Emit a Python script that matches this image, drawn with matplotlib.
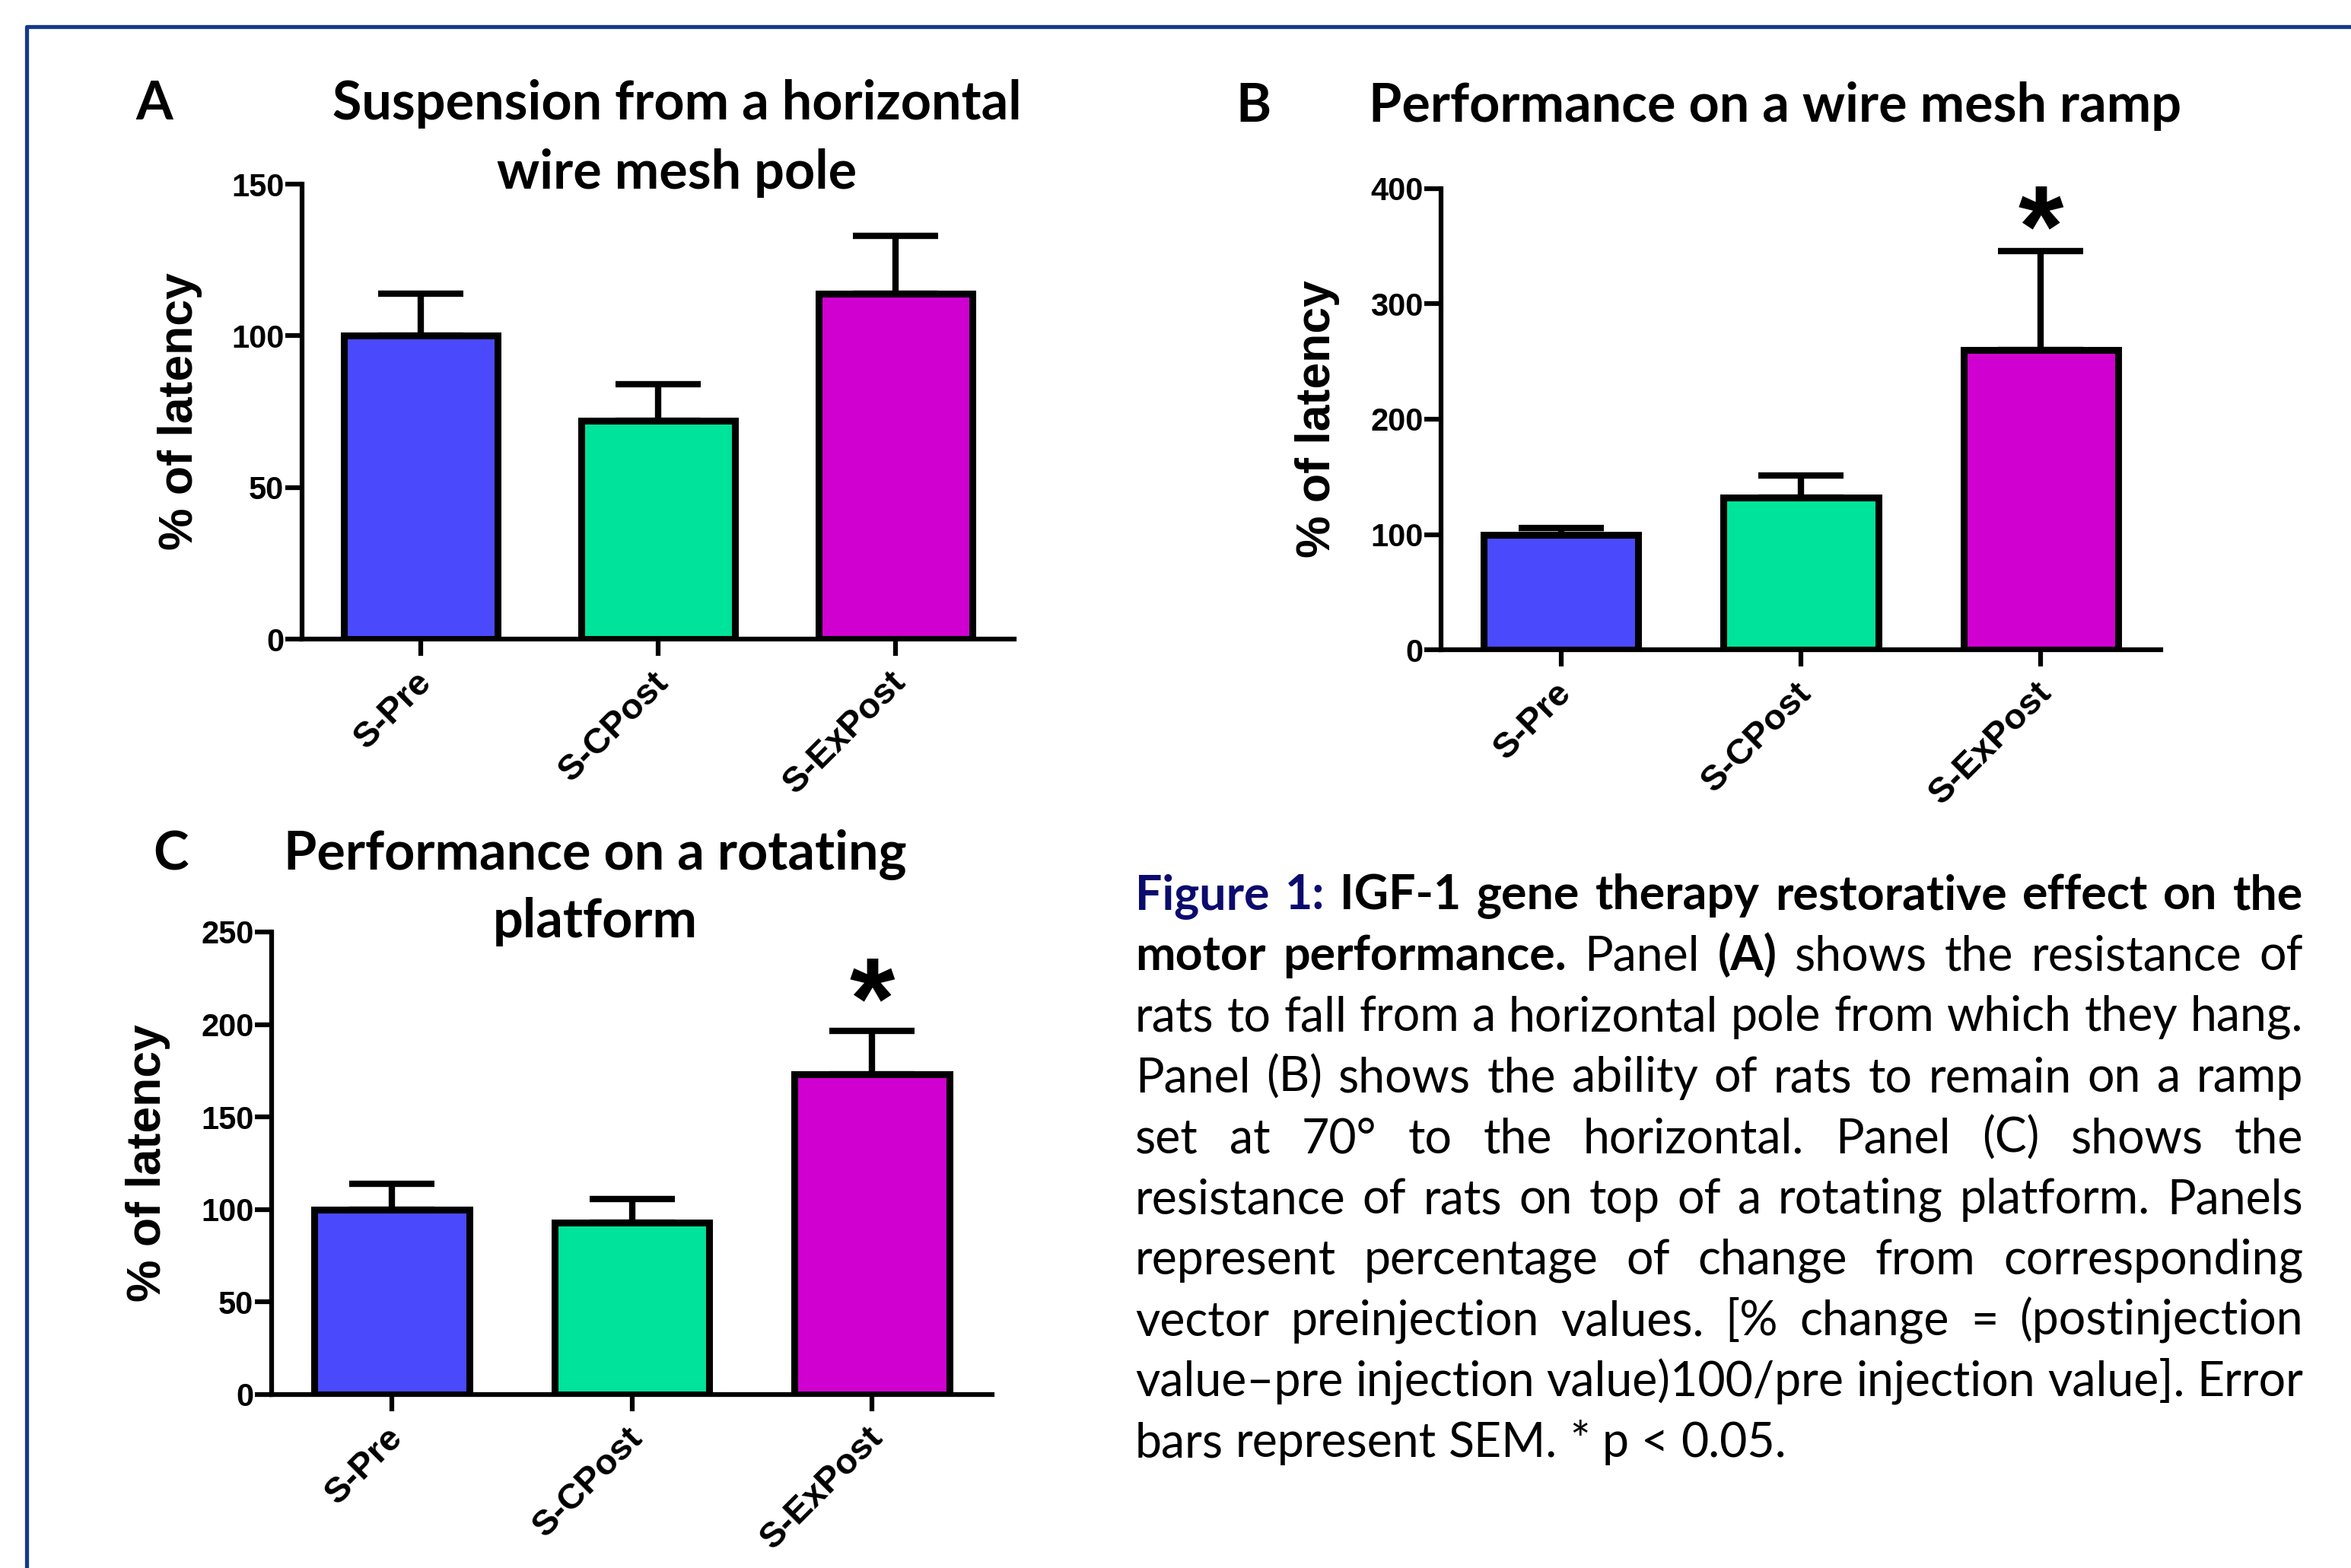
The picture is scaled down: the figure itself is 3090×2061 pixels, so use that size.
import matplotlib
matplotlib.use("Agg")
import matplotlib.pyplot as plt
from matplotlib.lines import Line2D
from matplotlib.transforms import ScaledTranslation
import numpy as np

W, H, DPI = 3090, 2061, 100

groups = ["S-Pre", "S-CPost", "S-ExPost"]
bar_colors = ["#4A4AFC", "#00E39A", "#D000D0"]

# Panel A: suspension from horizontal pole
pole_mean = [100, 72, 114]
pole_sem = [14, 12, 19]

# Panel B: wire mesh ramp
ramp_mean = [99.5, 132, 260]
ramp_sem = [6, 19, 86]
ramp_star = 388

# Panel C: rotating platform
rot_mean = [100, 93, 173]
rot_sem = [14, 12.5, 23.5]
rot_star = 227

TITLE_FONT = "Lato"
AXIS_FONT = "Liberation Sans"

fig = plt.figure(figsize=(W / DPI, H / DPI), dpi=DPI)
fig.patch.set_facecolor("white")

# blue frame (left + top edges)
fx, fy = 35 / W, 1 - 35 / H
fig.add_artist(Line2D([fx, fx, 1.0], [0.0, fy, fy], transform=fig.transFigure,
                      color="#163A8A", lw=3.8, solid_joinstyle="round"))


def make_axes(left, right, y0, ytop):
    return fig.add_axes([left / W, 1 - y0 / H, (right - left) / W, (y0 - ytop) / H])


def bar_panel(ax, means, sems, ymax, ystep, star=None):
    x = np.arange(len(groups))
    ax.errorbar(x, means, yerr=[np.zeros(len(sems)), sems], fmt="none",
                ecolor="black", elinewidth=6, capsize=40, capthick=6, zorder=1)
    ax.bar(x, means, width=0.645, color=bar_colors, edgecolor="black",
           linewidth=6.5, zorder=2)
    ax.set_xlim(-0.5, 2.5)
    ax.set_ylim(0, ymax)
    ax.set_yticks(np.arange(0, ymax + 1, ystep))
    ax.set_xticks(x)
    ax.set_xticklabels(groups, rotation=45, ha="right", rotation_mode="anchor")
    for s in ["top", "right"]:
        ax.spines[s].set_visible(False)
    for s in ["left", "bottom"]:
        ax.spines[s].set_linewidth(4.5)
    ax.tick_params(axis="both", direction="out", length=16, width=4.5,
                   labelsize=30, pad=1)
    ax.tick_params(axis="x", pad=9, labelsize=34)
    shift = ScaledTranslation(-6 / 72, 0, fig.dpi_scale_trans)
    for lab in ax.get_xticklabels():
        lab.set_transform(lab.get_transform() + shift)
    for lab in ax.get_xticklabels() + ax.get_yticklabels():
        lab.set_fontfamily(AXIS_FONT)
        lab.set_fontweight("bold")
    ax.set_ylabel("% of latency", fontsize=45, fontweight="bold",
                  family=AXIS_FONT, va="center")
    ax.yaxis.set_label_coords(-0.172, 0.5)
    if star is not None:
        ax.annotate("*", xy=(2, star), xytext=(0, -60), textcoords="offset points",
                    ha="center", va="baseline", fontsize=110, fontweight="bold",
                    family=AXIS_FONT)


axA = make_axes(397, 1333, 840, 242)
bar_panel(axA, pole_mean, pole_sem, 150, 50)

axB = make_axes(1894, 2840, 854, 248)
bar_panel(axB, ramp_mean, ramp_sem, 400, 100, star=ramp_star)

axC = make_axes(357, 1304, 1833, 1225)
bar_panel(axC, rot_mean, rot_sem, 250, 50, star=rot_star)


def ftext(px, py, s, **kw):
    fig.text(px / W, 1 - py / H, s, family=TITLE_FONT, fontweight="bold",
             fontsize=50.5, va="baseline", **kw)


# panel letters and titles
ftext(178, 157, "A")
ftext(890, 157, "Suspension from a horizontal", ha="center")
ftext(890, 248, "wire mesh pole", ha="center")

ftext(1624, 160, "B")
ftext(2333, 160, "Performance on a wire mesh ramp", ha="center")

ftext(201, 1143, "C")
ftext(782, 1143, "Performance on a rotating", ha="center")
ftext(782, 1232, "platform", ha="center")

# caption, justified
caption = [
    [("Figure 1:", "fig"), ("IGF-1 gene therapy restorative effect on the", "b")],
    [("motor performance.", "b"), ("Panel", "r"), ("(A)", "b"), ("shows the resistance of", "r")],
    [("rats to fall from a horizontal pole from which they hang.", "r")],
    [("Panel (B) shows the ability of rats to remain on a ramp", "r")],
    [("set at 70\u00b0 to the horizontal. Panel (C) shows the", "r")],
    [("resistance of rats on top of a rotating platform. Panels", "r")],
    [("represent percentage of change from corresponding", "r")],
    [("vector preinjection values. [% change = (postinjection", "r")],
    [("value\u2013pre injection value)100/pre injection value]. Error", "r")],
    [("bars represent SEM. * p < 0.05.", "r")],
]
styles = {"fig": ("bold", "#0B0B6E"), "b": ("bold", "black"), "r": ("normal", "black")}

cap_left, cap_right = 1492, 3027
cap_top, cap_step = 1195, 80
cap_size = 50

renderer = fig.canvas.get_renderer()


def word_items(line):
    items = []
    for seg, st in line:
        for w in seg.split():
            items.append((w, st))
    return items


def measure(s, st, size):
    t = fig.text(0, 0, s, family=TITLE_FONT, fontsize=size, fontweight=styles[st][0])
    wd = t.get_window_extent(renderer).width
    t.remove()
    return wd


# fit the font so the tightest line just fills the column
space_w = measure("a a", "r", cap_size) - measure("aa", "r", cap_size)
widest = 0
for line in caption[:-1]:
    items = word_items(line)
    tot = sum(measure(w, st, cap_size) for w, st in items) + space_w * (len(items) - 1)
    widest = max(widest, tot)
avail = cap_right - cap_left
cap_size = cap_size * avail / widest
space_w = measure("a a", "r", cap_size) - measure("aa", "r", cap_size)

for i, line in enumerate(caption):
    items = word_items(line)
    widths = [measure(w, st, cap_size) for w, st in items]
    if i < len(caption) - 1:
        gap = (avail - sum(widths)) / (len(items) - 1)
    else:
        gap = space_w
    x = cap_left
    y = cap_top + i * cap_step
    for (w, st), wd in zip(items, widths):
        fig.text(x / W, 1 - y / H, w, family=TITLE_FONT, fontsize=cap_size,
                 fontweight=styles[st][0], color=styles[st][1], va="baseline")
        x += wd + gap

fig.savefig("out.png", dpi=DPI)
